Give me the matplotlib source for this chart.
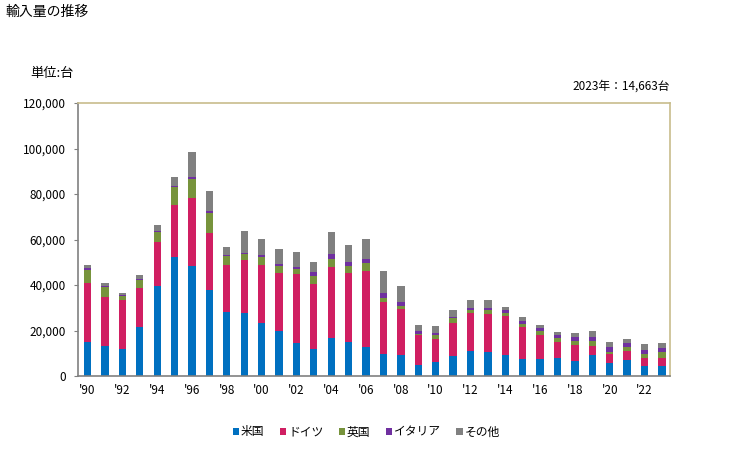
import matplotlib
matplotlib.use("Agg")
import matplotlib.pyplot as plt
import numpy as np
from matplotlib.ticker import FuncFormatter

plt.rcParams['font.family'] = ['Noto Sans CJK JP', 'DejaVu Sans']

# data (台)
years = list(range(1990, 2024))
usa = [15100, 13300, 11900, 21500, 39700, 52300, 48500, 37900, 28300, 27700,
       23300, 19800, 14500, 11900, 16800, 15100, 12700, 9800, 9200, 4800,
       6300, 8900, 11000, 10700, 9200, 7500, 7500, 8100, 6600, 9200,
       5700, 7200, 4500, 4500]
germany = [25700, 21400, 21600, 17300, 19200, 22800, 29800, 24900, 20500, 23400,
           25500, 25600, 30300, 28500, 31100, 30100, 33400, 22700, 20200, 13200,
           10000, 14400, 16700, 16700, 17300, 14000, 10500, 7000, 7000, 4100,
           4100, 3800, 3600, 3600]
uk = [5800, 4400, 1800, 3500, 4400, 7900, 8200, 8800, 3900, 2500,
      3500, 2900, 2200, 3500, 3500, 3100, 3500, 1800, 1300, 400,
      1700, 2200, 1300, 1700, 1300, 1500, 1800, 1700, 1800, 2100,
      900, 1700, 1700, 2400]
italy = [1000, 600, 400, 500, 400, 500, 900, 900, 400, 400,
         800, 900, 900, 1800, 2200, 1800, 1800, 2200, 1800, 1400,
         900, 400, 900, 900, 1300, 1300, 1300, 1200, 1700, 1700,
         2000, 1800, 1800, 1800]
other = [1200, 1100, 800, 1600, 2600, 3900, 11000, 8800, 3600, 9800,
         7100, 6600, 6600, 4400, 9700, 7400, 8800, 9600, 7000, 2600,
         3100, 3100, 3500, 3400, 1200, 1600, 1300, 1300, 1800, 2700,
         2200, 1800, 2500, 2363]

series = [("米国", usa, "#0070c0"),
          ("ドイツ", germany, "#d01f62"),
          ("英国", uk, "#77933c"),
          ("イタリア", italy, "#7030a0"),
          ("その他", other, "#808080")]

fig = plt.figure(figsize=(7.29, 4.5), dpi=100)
ax = fig.add_axes([0.107, 0.1644, 0.812, 0.6066])

bottom = np.zeros(len(years))
for name, vals, col in series:
    ax.bar(years, vals, width=0.42, bottom=bottom, color=col, label=name, zorder=2)
    bottom += np.array(vals)

ax.set_xlim(1989.45, 2023.46)
ax.set_ylim(0, 120000)
ax.set_yticks(range(0, 120001, 20000))
ax.yaxis.set_major_formatter(FuncFormatter(lambda v, p: f"{int(v):,}"))
ax.set_xticks(range(1990, 2024, 2))
ax.set_xticklabels(["'" + str(y)[2:] for y in range(1990, 2024, 2)])

ax.tick_params(axis='y', length=3, color='#808080', labelsize=8.5, pad=6)
ax.tick_params(axis='x', length=0, labelsize=8.5, pad=6)

for s in ['left', 'bottom']:
    ax.spines[s].set_color('#808080')
    ax.spines[s].set_linewidth(1.2)
for s in ['top', 'right']:
    ax.spines[s].set_color('#c8bc8c')
    ax.spines[s].set_linewidth(1.2)

fig.text(5 / 729, 1 - 12 / 450, "輸入量の推移", fontsize=10, va='center', ha='left')
fig.text(30 / 729, 1 - 74 / 450, "単位:台", fontsize=9.5, va='center', ha='left')
fig.text(670 / 729, 1 - 86 / 450, "2023年：14,663台", fontsize=8.5, va='center', ha='right')

ax.legend(loc='center', bbox_to_anchor=(0.487, -0.205), ncol=5, frameon=False,
          fontsize=8.5, handlelength=0.55, handleheight=0.55, handletextpad=0.15,
          columnspacing=1.3)

plt.savefig("out.png", dpi=100)
